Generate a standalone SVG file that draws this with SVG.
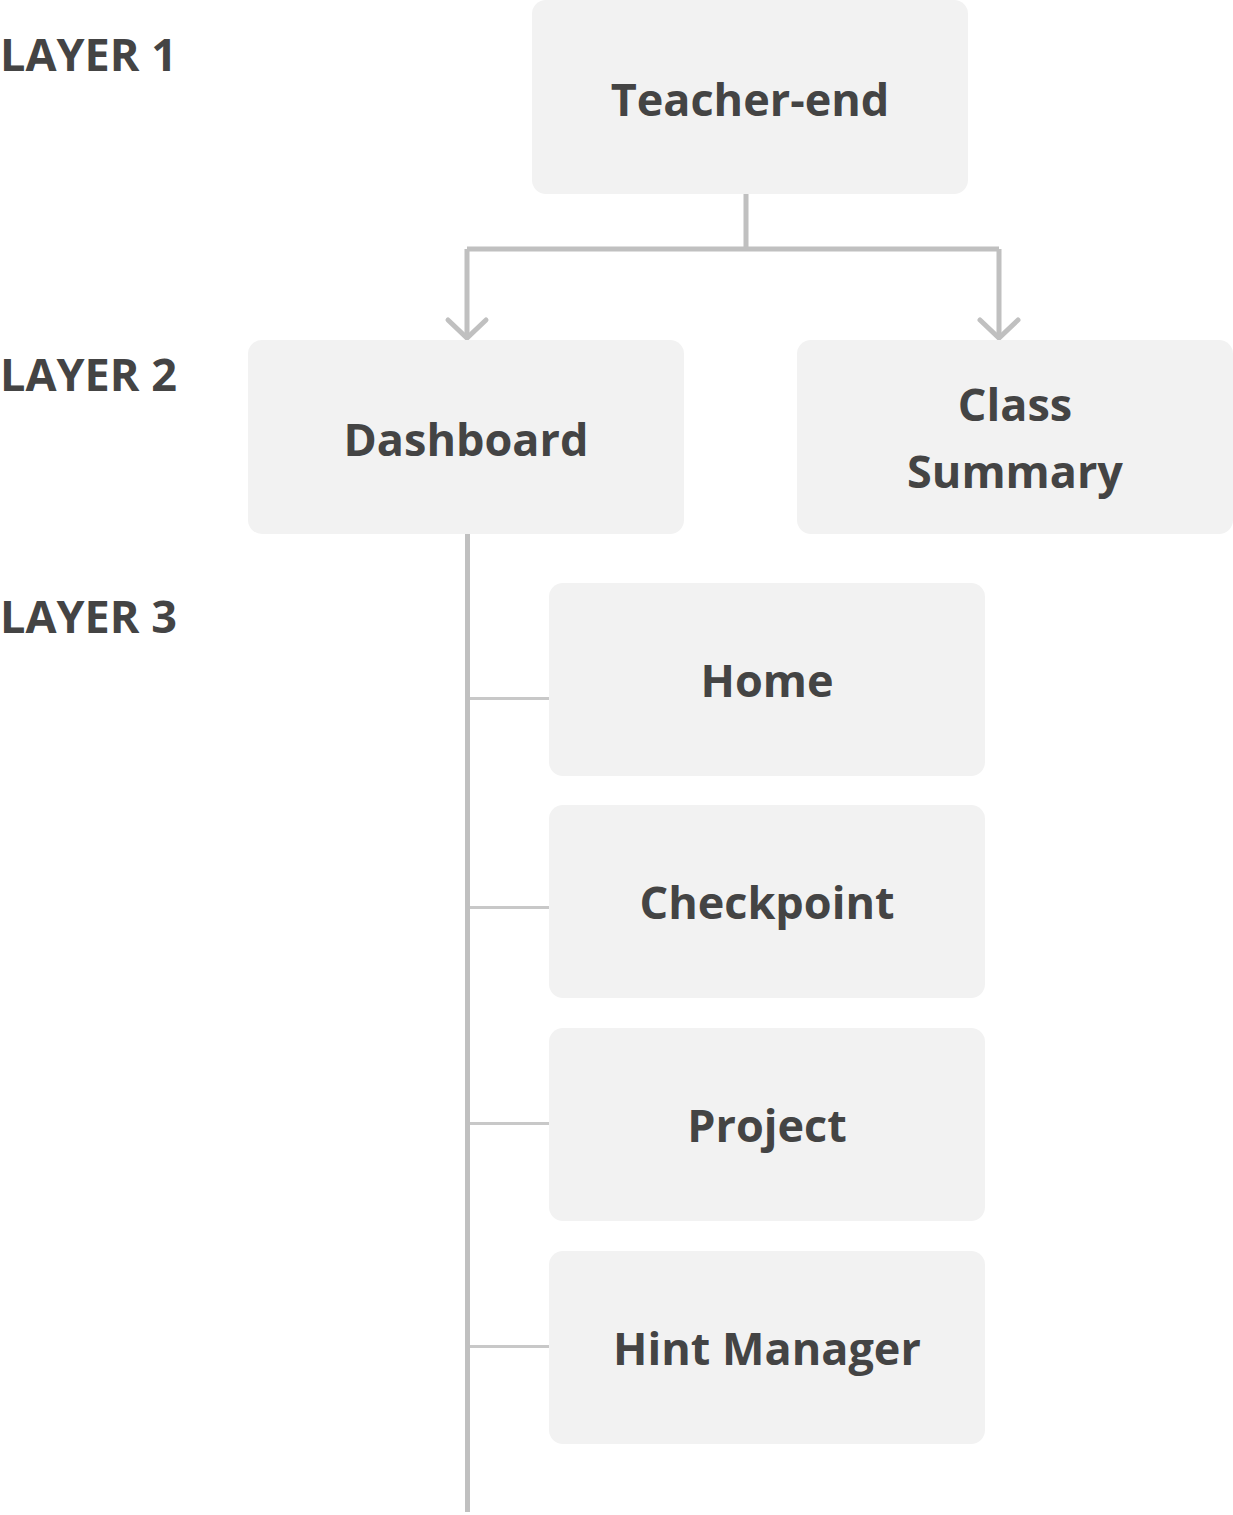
<svg xmlns="http://www.w3.org/2000/svg" width="1233" height="1515" viewBox="0 0 1233 1515">
<style>
.box{fill:#f2f2f2}
.lbl{font-family:"Open Sans","Liberation Sans",sans-serif;font-weight:700;font-size:45px;fill:#444444;text-anchor:middle}
.layer{font-family:"Open Sans","Liberation Sans",sans-serif;font-weight:700;font-size:45px;fill:#444444}
.conn{fill:none;stroke:#c0c0c0;stroke-width:5}
.branch{fill:none;stroke:#c8c8c8;stroke-width:3}
.arrow{fill:none;stroke:#c0c0c0;stroke-width:5;stroke-linecap:round;stroke-linejoin:miter}
</style>
<rect width="1233" height="1515" fill="#ffffff"/>
<g id="layers">
<text class="layer" x="0" y="71">LAYER 1</text>
<text class="layer" x="0" y="391">LAYER 2</text>
<text class="layer" x="0" y="633">LAYER 3</text>
</g>
<g id="connectors">
<path class="conn" d="M746 194 V249 M467 249 H999 M467 249 V336 M999 249 V336"/>
<path class="arrow" d="M448 320 L467 338 L486 320"/>
<path class="arrow" d="M980 320 L999 338 L1018 320"/>
<path class="conn" d="M467.5 534 V1512"/>
<path class="branch" d="M470 698.5 H549 M470 907.5 H549 M470 1123.5 H549 M470 1346.5 H549"/>
</g>
<g id="teacher-end">
<rect class="box" x="532" y="0" width="436" height="194" rx="14"/>
<text class="lbl" x="750" y="116">Teacher-end</text>
</g>
<g id="dashboard">
<rect class="box" x="248" y="340" width="436" height="194" rx="14"/>
<text class="lbl" x="466" y="456">Dashboard</text>
</g>
<g id="class-summary">
<rect class="box" x="797" y="340" width="436" height="194" rx="14"/>
<text class="lbl" x="1015" y="421">Class</text>
<text class="lbl" x="1015" y="488">Summary</text>
</g>
<g id="home">
<rect class="box" x="549" y="583" width="436" height="193" rx="14"/>
<text class="lbl" x="767" y="697">Home</text>
</g>
<g id="checkpoint">
<rect class="box" x="549" y="805" width="436" height="193" rx="14"/>
<text class="lbl" x="767" y="919">Checkpoint</text>
</g>
<g id="project">
<rect class="box" x="549" y="1028" width="436" height="193" rx="14"/>
<text class="lbl" x="767" y="1142">Project</text>
</g>
<g id="hint-manager">
<rect class="box" x="549" y="1251" width="436" height="193" rx="14"/>
<text class="lbl" x="767" y="1365">Hint Manager</text>
</g>
</svg>
